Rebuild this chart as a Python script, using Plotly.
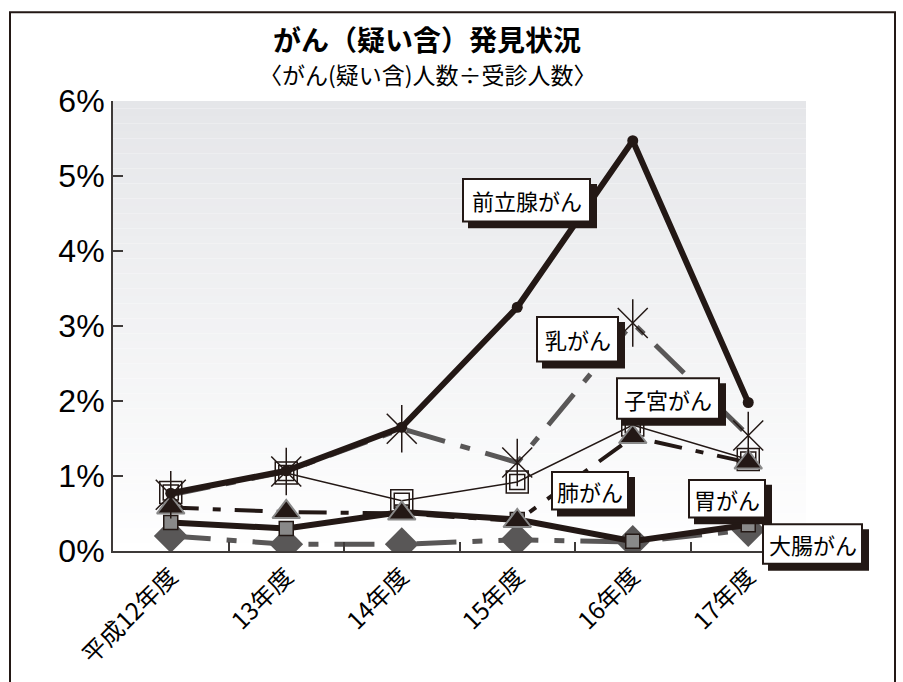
import plotly.graph_objects as go

# ---------------- data ----------------
years = ["平成12年度", "13年度", "14年度", "15年度", "16年度", "17年度"]
prostate = [0.77, 1.07, 1.65, 3.25, 5.47, 1.98]      # 前立腺がん
breast = [0.75, 1.06, 1.63, 1.18, 3.04, 1.54]        # 乳がん
uterus = [0.78, 1.04, 0.67, 0.92, 1.68, 1.22]        # 子宮がん
lung = [0.58, 0.52, 0.50, 0.40, 1.52, 1.18]          # 肺がん
stomach = [0.38, 0.30, 0.52, 0.42, 0.13, 0.35]       # 胃がん
colon = [0.20, 0.09, 0.09, 0.15, 0.12, 0.28]         # 大腸がん
y_ticks = [0, 1, 2, 3, 4, 5, 6]

title_text = "がん（疑い含）発見状況"
subtitle_text = "〈がん(疑い含)人数÷受診人数〉"
labels = ["前立腺がん", "乳がん", "子宮がん", "肺がん", "胃がん", "大腸がん"]

# ---------------- styling ----------------
W, H = 903, 682
L, R, T, B = 113, 806, 101, 557
BLACK = "#231815"
DGRAY = "#595757"
MGRAY = "#898989"
JP = "Noto Sans CJK JP"


def px(x):
    return (x - L) / (R - L)


def py(y):
    return (B - y) / (B - T)


fig = go.Figure()

# colon (diamonds, gray dashed)
fig.add_trace(go.Scatter(x=years, y=colon, mode="lines+markers",
                         line=dict(color=DGRAY, width=5, dash="40px,16px,10px,16px"),
                         marker=dict(symbol="diamond", size=26, color=DGRAY, line=dict(width=0))))
# stomach (thick black, gray squares)
fig.add_trace(go.Scatter(x=years, y=stomach, mode="lines+markers",
                         line=dict(color=BLACK, width=6),
                         marker=dict(symbol="square", size=14, color=MGRAY, line=dict(color=BLACK, width=1.5))))
# breast line (gray dashed)
fig.add_trace(go.Scatter(x=years, y=breast, mode="lines",
                         line=dict(color=DGRAY, width=5, dash="40px,16px,10px,16px")))
# uterus (thin line, double open squares)
fig.add_trace(go.Scatter(x=years, y=uterus, mode="lines+markers",
                         line=dict(color=BLACK, width=1.5),
                         marker=dict(symbol="square-open", size=22, color=BLACK, line=dict(width=1.5))))
fig.add_trace(go.Scatter(x=years, y=uterus, mode="markers",
                         marker=dict(symbol="square-open", size=15, color=BLACK, line=dict(width=1.5))))
# lung (dash-dot black, triangles)
fig.add_trace(go.Scatter(x=years, y=lung, mode="lines+markers",
                         line=dict(color=BLACK, width=4, dash="28px,14px,8px,14px"),
                         marker=dict(symbol="triangle-up", size=24, color=BLACK, line=dict(color=MGRAY, width=2))))
# prostate (thick black, small dots)
fig.add_trace(go.Scatter(x=years, y=prostate, mode="lines+markers",
                         line=dict(color=BLACK, width=6),
                         marker=dict(symbol="circle", size=11, color=BLACK)))
# breast star markers
fig.add_trace(go.Scatter(x=years, y=breast, mode="markers",
                         marker=dict(symbol="x-thin-open", size=30, color=BLACK, line=dict(width=1.5, color=BLACK))))
fig.add_trace(go.Scatter(x=years, y=breast, mode="markers",
                         marker=dict(symbol="line-ns-open", size=34, color=BLACK, line=dict(width=1.5, color=BLACK))))

# gradient background of plot area
shapes = []
N = 60
for i in range(N):
    t = i / N
    c0 = (229, 230, 233)
    col = tuple(int(round(c0[k] + (255 - c0[k]) * t)) for k in range(3))
    shapes.append(dict(type="rect", xref="paper", yref="paper", x0=0, x1=1,
                       y0=1 - (i + 1) / N, y1=1 - i / N, layer="below",
                       fillcolor="rgb(%d,%d,%d)" % col, line=dict(width=0)))
# outer frame
shapes.append(dict(type="rect", xref="paper", yref="paper",
                   x0=px(10), x1=px(895), y0=py(700), y1=py(11),
                   line=dict(color=BLACK, width=2), fillcolor="rgba(0,0,0,0)", layer="above"))

annotations = [
    dict(text="<b>" + title_text + "</b>", xref="paper", yref="paper", x=px(427), y=py(38),
         showarrow=False, font=dict(family=JP, size=28, color="black"), xanchor="center", yanchor="middle"),
    dict(text=subtitle_text, xref="paper", yref="paper", x=px(428), y=py(74),
         showarrow=False, font=dict(family=JP, size=23, color="black"), xanchor="center", yanchor="middle"),
]

# label boxes (pixel extents) with drop shadow
label_boxes = [(463, 180, 590, 223), (537, 320, 618, 365), (617, 382, 719, 423),
               (552, 477, 628, 515), (689, 485, 765, 523), (763, 530, 862, 570)]
SH = 6
for txt, (x0, y0, x1, y1) in zip(labels, label_boxes):
    shapes.append(dict(type="rect", xref="paper", yref="paper",
                       x0=px(x0 + SH), x1=px(x1 + SH), y0=py(y1 + SH), y1=py(y0 + SH),
                       fillcolor=BLACK, line=dict(color=BLACK, width=2), layer="above"))
    shapes.append(dict(type="rect", xref="paper", yref="paper",
                       x0=px(x0), x1=px(x1), y0=py(y1), y1=py(y0),
                       fillcolor="white", line=dict(color=BLACK, width=2), layer="above"))
    annotations.append(dict(text=txt, xref="paper", yref="paper", x=px((x0 + x1) / 2),
                            y=py((y0 + y1) / 2), showarrow=False, xanchor="center", yanchor="middle",
                            font=dict(family=JP, size=22, color="black")))

fig.update_layout(
    width=W, height=H,
    margin=dict(l=L, r=W - R, t=T, b=H - B),
    paper_bgcolor="white", plot_bgcolor="white",
    showlegend=False,
    shapes=shapes, annotations=annotations,
    xaxis=dict(type="category", range=[-0.5, 5.5], showgrid=False, zeroline=False,
               showline=True, linecolor="#3e3a39", linewidth=2,
               ticks="inside", tickson="boundaries", ticklen=9, tickcolor="#3e3a39", tickwidth=1.5,
               tickangle=-45, tickfont=dict(family=JP, size=24, color="black")),
    yaxis=dict(range=[0, 6], tickvals=y_ticks, ticktext=["%d%%" % v for v in y_ticks],
               showgrid=False, zeroline=False, showline=True, linecolor="#3e3a39", linewidth=2,
               ticks="inside", ticklen=10, tickcolor="#3e3a39", tickwidth=1.5,
               tickfont=dict(family="Liberation Sans", size=32, color="black")),
)

fig.write_html("out.html", config={"displayModeBar": False},
               post_script="document.body.style.margin='0';document.body.style.overflow='hidden';")
